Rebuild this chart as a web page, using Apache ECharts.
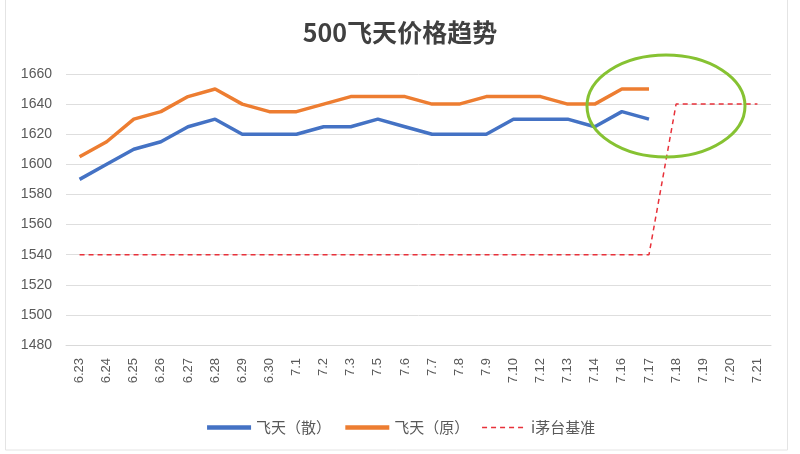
<!DOCTYPE html>
<html>
<head>
<meta charset="utf-8">
<script src="https://cdn.jsdelivr.net/npm/echarts@6/dist/echarts.min.js"></script>
<style>
	html, body { margin: 0; padding: 0; background: #fff; }
	#main { width: 800px; height: 454px; }
</style>
</head>
<body>
<div id="main"></div>
<script>
var dates = ['6.23', '6.24', '6.25', '6.26', '6.27', '6.28', '6.29', '6.30', '7.1', '7.2', '7.3', '7.5', '7.6',
	'7.7', '7.8', '7.9', '7.10', '7.12', '7.13', '7.14', '7.16', '7.17', '7.18', '7.19', '7.20', '7.21'];
// 飞天（散）
var sanPrice = [1590, 1600, 1610, 1615, 1625, 1630, 1620, 1620, 1620, 1625, 1625, 1630, 1625,
	1620, 1620, 1620, 1630, 1630, 1630, 1625, 1635, 1630, null, null, null, null];
// 飞天（原）
var yuanPrice = [1605, 1615, 1630, 1635, 1645, 1650, 1640, 1635, 1635, 1640, 1645, 1645, 1645,
	1640, 1640, 1645, 1645, 1645, 1640, 1640, 1650, 1650, null, null, null, null];
// i茅台基准
var basePrice = [1540, 1540, 1540, 1540, 1540, 1540, 1540, 1540, 1540, 1540, 1540, 1540, 1540,
	1540, 1540, 1540, 1540, 1540, 1540, 1540, 1540, 1540, 1640, 1640, 1640, 1640];
var seriesNames = ['飞天（散）', '飞天（原）', 'i茅台基准'];

var chart = echarts.init(document.getElementById('main'));
var option = {
	backgroundColor: '#fff',
	textStyle: { fontFamily: '"Noto Sans CJK SC", "Liberation Sans", sans-serif' },
	title: {
		text: '500飞天价格趋势',
		left: 'center',
		top: 15,
		textStyle: { fontSize: 25, fontWeight: 'bold', color: '#404040' }
	},
	legend: {
		bottom: 14,
		left: 'center',
		itemWidth: 44,
		itemHeight: 10,
		itemGap: 12,
		itemStyle: { opacity: 0 },
		textStyle: { fontSize: 15, color: '#595959' },
		data: [
			{ name: seriesNames[0], lineStyle: { width: 4.5 } },
			{ name: seriesNames[1], lineStyle: { width: 4.5 } },
			{ name: seriesNames[2], lineStyle: { width: 1.5 } }
		]
	},
	grid: { left: 66, right: 29, top: 74, bottom: 109 },
	xAxis: {
		type: 'category',
		data: dates,
		boundaryGap: true,
		axisLine: { lineStyle: { color: '#d9d9d9', width: 1 } },
		axisTick: { show: false },
		axisLabel: { rotate: 90, interval: 0, color: '#595959', fontSize: 13, margin: 13,
			fontFamily: '"Liberation Sans", sans-serif' }
	},
	yAxis: {
		type: 'value',
		min: 1480,
		max: 1660,
		interval: 20,
		axisLine: { show: false },
		axisTick: { show: false },
		splitLine: { lineStyle: { color: '#dedede', width: 1 } },
		axisLabel: { color: '#595959', fontSize: 14, margin: 14,
			fontFamily: '"Liberation Sans", sans-serif',
			formatter: function(v) { return String(v); } }
	},
	series: [{
		name: seriesNames[0],
		type: 'line',
		data: sanPrice,
		symbol: 'none',
		color: '#4472C4',
		lineStyle: { width: 3.5 }
	}, {
		name: seriesNames[1],
		type: 'line',
		data: yuanPrice,
		symbol: 'none',
		color: '#ED7D31',
		lineStyle: { width: 3.5 }
	}, {
		name: seriesNames[2],
		type: 'line',
		data: basePrice,
		symbol: 'none',
		color: '#E8313A',
		lineStyle: { width: 1.5, type: [5, 4] }
	}],
	graphic: [{
		type: 'ellipse',
		shape: { cx: 666, cy: 106, rx: 79, ry: 51 },
		style: { fill: 'none', stroke: '#86C232', lineWidth: 3 },
		z: 100
	}, {
		type: 'rect',
		shape: { x: 5.5, y: -2, width: 782, height: 452 },
		style: { fill: 'none', stroke: '#e4e4e4', lineWidth: 1 },
		silent: true
	}]
};
chart.setOption(option);
</script>
</body>
</html>
